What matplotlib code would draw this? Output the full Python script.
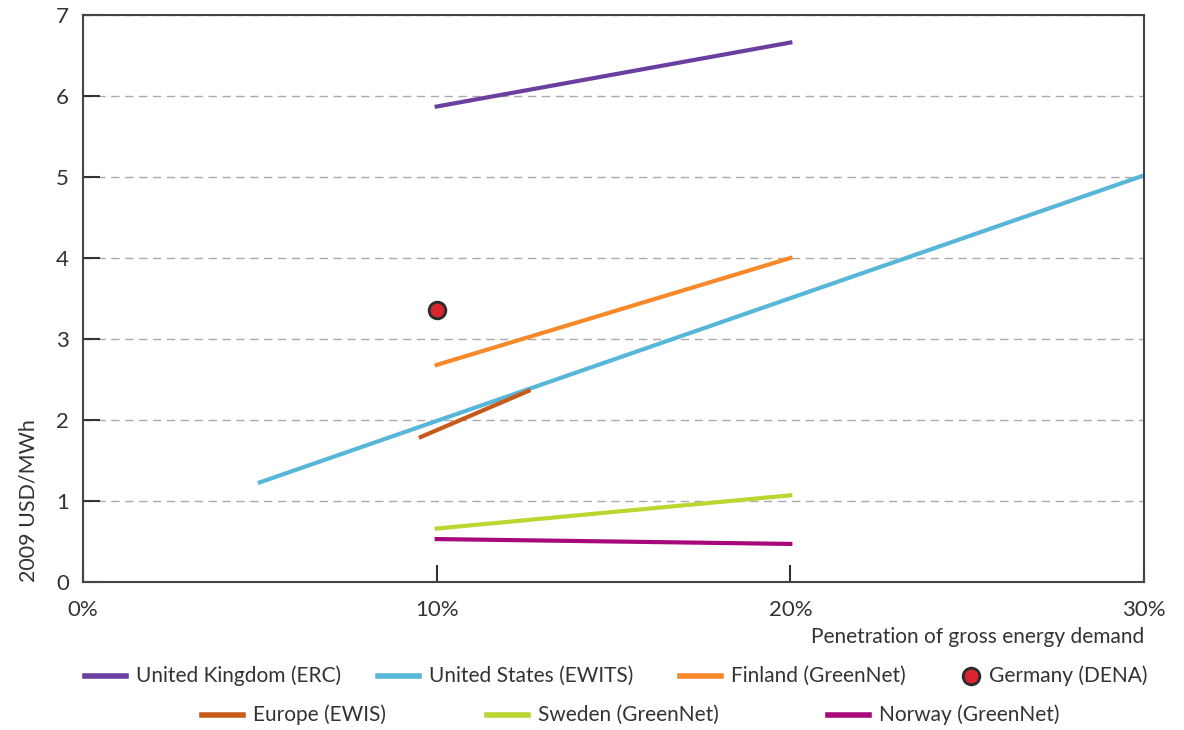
import matplotlib
matplotlib.use("Agg")
import matplotlib.pyplot as plt
from matplotlib.lines import Line2D
from matplotlib.ticker import FuncFormatter

plt.rcParams['font.family'] = ['Lato', 'DejaVu Sans']

# data (x in % penetration, y in 2009 USD/MWh)
uk_x = [10, 20]
uk_y = [5.87, 6.66]
us_x = [5, 30]
us_y = [1.23, 5.02]
fin_x = [10, 20]
fin_y = [2.68, 4.0]
ger_x = [10]
ger_y = [3.36]
eur_x = [9.55, 12.6]
eur_y = [1.79, 2.36]
swe_x = [10, 20]
swe_y = [0.66, 1.07]
nor_x = [10, 20]
nor_y = [0.53, 0.47]

W, H = 1184, 730
fig = plt.figure(figsize=(W / 100, H / 100), dpi=100)
ax = fig.add_axes([83 / W, 1 - 582 / H, (1144 - 83) / W, (582 - 15) / H])

lw = 3
l_uk, = ax.plot(uk_x, uk_y, color='#6B3FA0', lw=lw, label='United Kingdom (ERC)')
l_us, = ax.plot(us_x, us_y, color='#58B6D8', lw=lw, label='United States (EWITS)')
l_fin, = ax.plot(fin_x, fin_y, color='#F7892A', lw=lw, label='Finland (GreenNet)')
l_ger, = ax.plot(ger_x, ger_y, 'o', color='#D7262E', mec='#2B2B2B', mew=2, ms=12,
                 label='Germany (DENA)')
l_eur, = ax.plot(eur_x, eur_y, color='#C55A1A', lw=lw, label='Europe (EWIS)')
l_swe, = ax.plot(swe_x, swe_y, color='#BCD631', lw=lw, label='Sweden (GreenNet)')
l_nor, = ax.plot(nor_x, nor_y, color='#A8097A', lw=lw, label='Norway (GreenNet)')

ax.set_xlim(0, 30)
ax.set_ylim(0, 7)
ax.set_xticks([0, 10, 20, 30])
ax.xaxis.set_major_formatter(FuncFormatter(lambda v, p: f'{v:.0f}%'))
ax.set_yticks(range(8))
ax.yaxis.grid(True, ls=(0, (6, 4)), color='#AAAAAA', lw=1)
ax.set_axisbelow(True)
ax.tick_params(direction='in', length=12, width=1.5, colors='#333333', labelsize=16,
               labelcolor='#333333')
ax.tick_params(axis='x', pad=13)
ax.tick_params(axis='y', pad=10)
for s in ax.spines.values():
    s.set_color('#444444')
    s.set_linewidth(1.5)

ax.set_ylabel('2009 USD/MWh', fontsize=15.5, color='#333333', labelpad=13, loc='bottom')
ax.set_xlabel('Penetration of gross energy demand', fontsize=15, color='#333333',
              loc='right', labelpad=5)

# legend drawn by hand: (handle, start px of key, row)
legend_items = [(l_uk, 85, 676), (l_us, 378, 676), (l_fin, 680, 676), (l_ger, 962, 676),
                (l_eur, 202, 715), (l_swe, 487, 715), (l_nor, 828, 715)]
for h, x0, y0 in legend_items:
    yf = 1 - y0 / H
    if h.get_linestyle() == 'None':
        fig.add_artist(Line2D([(x0 + 9) / W], [yf], marker='o', color=h.get_color(),
                              mec=h.get_mec(), mew=h.get_mew(), ms=h.get_ms(), ls='None'))
        tx = x0 + 27
    else:
        fig.add_artist(Line2D([x0 / W, (x0 + 41) / W], [yf, yf], color=h.get_color(), lw=4))
        tx = x0 + 51
    fig.text(tx / W, yf, h.get_label(), fontsize=15, color='#333333', va='center', ha='left')

fig.savefig('out.png', dpi=100)
